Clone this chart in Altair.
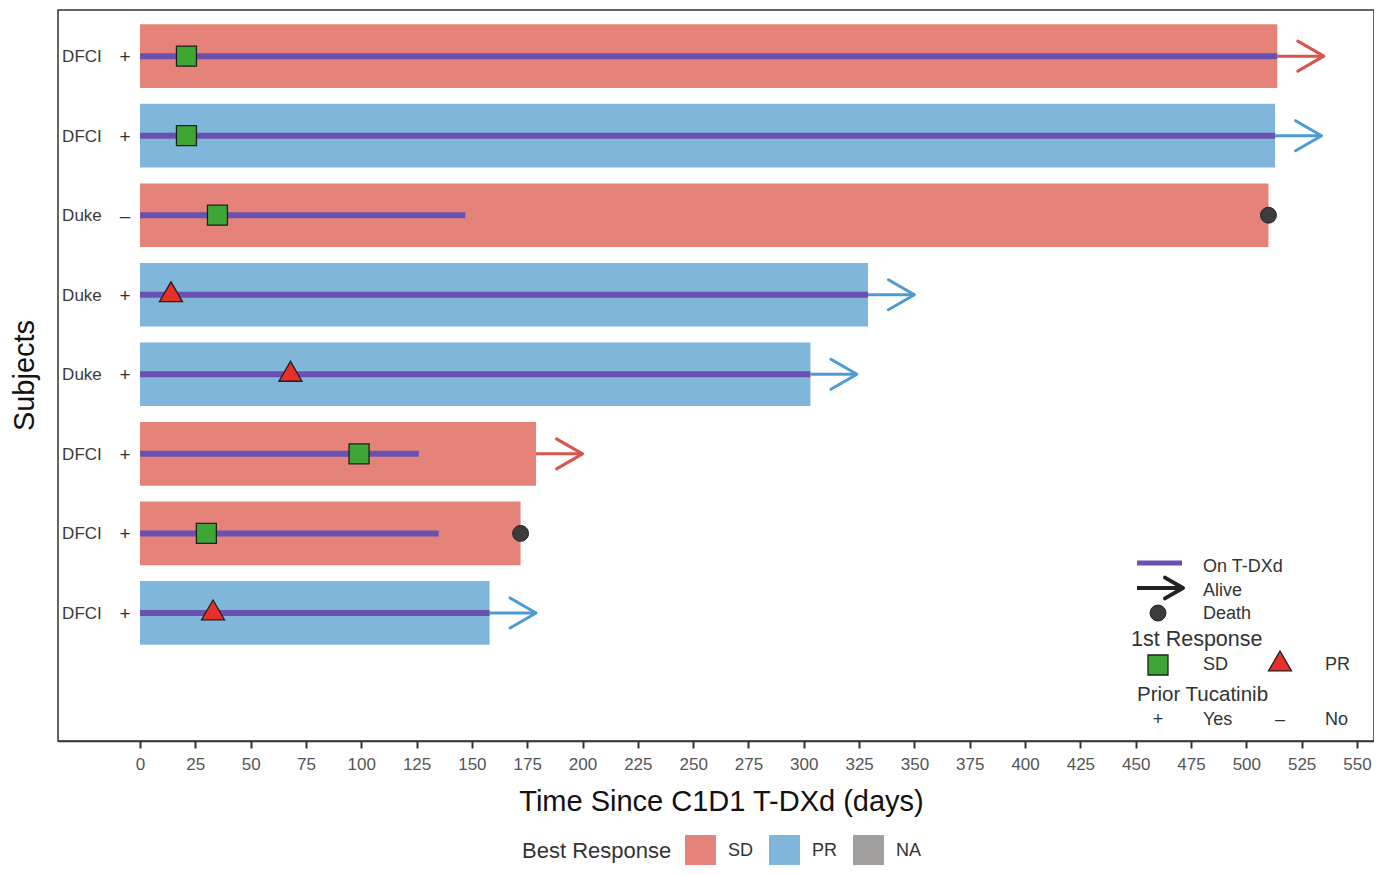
import altair as alt
import pandas as pd

# ---------------- data (top row first) ----------------
sites = ["DFCI", "DFCI", "Duke", "Duke", "Duke", "DFCI", "DFCI", "DFCI"]
prior_tucatinib = ["+", "+", "–", "+", "+", "+", "+", "+"]
best_response = ["SD", "PR", "SD", "PR", "PR", "SD", "SD", "PR"]
total_days = [514, 513, 510, 329, 303, 179, 172, 158]
on_tdxd_days = [514, 513, 147, 329, 303, 126, 135, 158]
first_resp_days = [21, 21, 35, 14, 68, 99, 30, 33]
first_resp = ["SD", "SD", "SD", "PR", "PR", "SD", "SD", "PR"]
status = ["Alive", "Alive", "Death", "Alive", "Alive", "Alive", "Death", "Alive"]
x_ticks = list(range(0, 551, 25))
resp_levels = ["SD", "PR", "NA"]

n = len(sites)
df = pd.DataFrame({
    "site": sites,
    "prior": prior_tucatinib,
    "best": best_response,
    "total": total_days,
    "ontx": on_tdxd_days,
    "resp_day": first_resp_days,
    "resp": first_resp,
    "status": status,
    "row": list(range(n, 0, -1)),
})

FONT = "Liberation Sans, Arial, sans-serif"
NARROW = "Liberation Sans Narrow, Arial Narrow, Liberation Sans, sans-serif"
SD_COL, PR_COL, NA_COL = "#E5837A", "#80B6DA", "#A19E9E"
PURPLE = "#6A51B0"
ARROW_PATH = "M -1 -0.577 L 0 0 L -1 0.577"
ARROW_LEN = 21

xscale = alt.Scale(domain=[-37.06, 557.7], nice=False, zero=False)
yscale = alt.Scale(domain=[-0.61, 8.58], nice=False, zero=False)

XAXIS = alt.Axis(
    values=x_ticks, title="Time Since C1D1 T-DXd (days)", grid=False,
    labelFontSize=17, labelColor="#555555", labelFont=NARROW,
    labelOverlap=False, labelFlush=False,
    tickColor="#333", tickSize=7, tickWidth=2,
    domainColor="#333", domainWidth=1.5, labelPadding=8,
    titleFont=FONT, titleFontSize=29, titleFontWeight="normal",
    titleColor="#111", titleX=663, titleY=69, titleBaseline="alphabetic")
YAXIS = alt.Axis(
    title="Subjects", labels=False, ticks=False, domain=False, grid=False,
    titleFont=FONT, titleFontSize=29, titleFontWeight="normal",
    titleColor="#111", titleX=-25, titleY=365, titleBaseline="alphabetic",
    titleAngle=270)


def X(field):
    return alt.X(field, scale=xscale, axis=XAXIS, title="Time Since C1D1 T-DXd (days)")


def Y(field):
    return alt.Y(field, scale=yscale, axis=YAXIS, title="Subjects")


base = alt.Chart(df)

bars = base.transform_calculate(
    x0="0", ylo="datum.row - 0.4", yhi="datum.row + 0.4"
).mark_rect().encode(
    x=X("x0:Q"),
    x2="total:Q",
    y=Y("ylo:Q"),
    y2="yhi:Q",
    color=alt.Color("best:N", scale=alt.Scale(domain=resp_levels,
                                              range=[SD_COL, PR_COL, NA_COL]),
                    legend=alt.Legend(
                        orient="none", legendX=464, legendY=825,
                        direction="horizontal", titleOrient="left",
                        title="Best Response", titleFont=FONT, titleFontSize=22,
                        titleFontWeight="normal", titleColor="#333",
                        titlePadding=13, titleBaseline="middle",
                        labelFont=FONT, labelFontSize=18, labelColor="#333",
                        symbolType="square", symbolSize=961,
                        symbolStrokeWidth=0, symbolOpacity=1,
                        labelOffset=12, columnPadding=15)),
)

ontx_line = base.transform_calculate(x0="0").mark_rule(
    color=PURPLE, strokeWidth=6
).encode(
    x=X("x0:Q"),
    x2="ontx:Q",
    y=Y("row:Q"),
)

alive = base.transform_filter("datum.status == 'Alive'").transform_calculate(
    tip=f"datum.total + {ARROW_LEN}",
    acol="datum.best == 'SD' ? '#D9554B' : '#4C9CD3'",
)
arrow_shaft = alive.mark_rule(strokeWidth=3).encode(
    x=X("total:Q"),
    x2="tip:Q",
    y=Y("row:Q"),
    color=alt.Color("acol:N", scale=None),
)
arrow_head = alive.mark_point(
    shape=ARROW_PATH, size=2704, filled=False, strokeWidth=3,
    strokeCap="round", strokeJoin="round", opacity=1
).encode(
    x=X("tip:Q"),
    y=Y("row:Q"),
    color=alt.Color("acol:N", scale=None),
)

death = base.transform_filter("datum.status == 'Death'").mark_point(
    shape="circle", size=254, filled=True, fill="#3C3C3C", stroke="#222",
    strokeWidth=1, opacity=1
).encode(
    x=X("total:Q"),
    y=Y("row:Q"),
)

resp_sd = base.transform_filter("datum.resp == 'SD'").mark_point(
    shape="square", size=400, filled=True, fill="#3FA535", stroke="#1f1f1f",
    strokeWidth=1.3, opacity=1
).encode(
    x=X("resp_day:Q"),
    y=Y("row:Q"),
)
resp_pr = base.transform_filter("datum.resp == 'PR'").mark_point(
    shape="triangle-up", size=529, filled=True, fill="#E8302A", stroke="#1f1f1f",
    strokeWidth=1.3, opacity=1, yOffset=-3
).encode(
    x=X("resp_day:Q"),
    y=Y("row:Q"),
)

site_txt = base.transform_calculate(lx="-35.2").mark_text(
    align="left", baseline="middle", font=NARROW, fontSize=17,
    color="#3a3a3a", dy=1
).encode(
    x=X("lx:Q"),
    y=Y("row:Q"),
    text="site:N",
)
prior_txt = base.transform_calculate(lx="-6.8").mark_text(
    align="center", baseline="middle", font=FONT, fontSize=19,
    color="#333", dy=1
).encode(
    x=X("lx:Q"),
    y=Y("row:Q"),
    text="prior:N",
)

# ---------------- inner legend ----------------
one = alt.Chart(pd.DataFrame({"a": [0]}))


def ltext(txt, x, y, size=18, align="left"):
    return one.mark_text(text=txt, align=align, baseline="middle", font=FONT,
                         fontSize=size, color="#333").encode(
        x=alt.value(x), y=alt.value(y))


leg = [
    one.mark_rule(color=PURPLE, strokeWidth=5).encode(
        x=alt.value(1079), x2=alt.value(1124), y=alt.value(553)),
    one.mark_rule(color="#222", strokeWidth=4).encode(
        x=alt.value(1079), x2=alt.value(1123), y=alt.value(578)),
    one.mark_point(shape=ARROW_PATH, size=1296, filled=False, color="#222",
                   strokeWidth=4, strokeCap="round", strokeJoin="round",
                   opacity=1).encode(x=alt.value(1125), y=alt.value(578)),
    one.mark_point(shape="circle", size=254, filled=True, fill="#3C3C3C",
                   stroke="#222", strokeWidth=1, opacity=1).encode(
        x=alt.value(1100), y=alt.value(603)),
    ltext("On T-DXd", 1145, 557),
    ltext("Alive", 1145, 581),
    ltext("Death", 1145, 604),
    ltext("1st Response", 1073, 630, size=21.5),
    one.mark_point(shape="square", size=400, filled=True, fill="#3FA535",
                   stroke="#1f1f1f", strokeWidth=1.3, opacity=1).encode(
        x=alt.value(1100), y=alt.value(655)),
    ltext("SD", 1145, 655),
    one.mark_point(shape="triangle-up", size=529, filled=True, fill="#E8302A",
                   stroke="#1f1f1f", strokeWidth=1.3, opacity=1).encode(
        x=alt.value(1222), y=alt.value(651)),
    ltext("PR", 1267, 655),
    ltext("Prior Tucatinib", 1079, 685, size=20.5),
    ltext("+", 1100, 710, align="center"),
    ltext("Yes", 1145, 710),
    ltext("–", 1222, 710, align="center"),
    ltext("No", 1267, 710),
]

chart = alt.layer(
    bars, ontx_line, arrow_shaft, arrow_head, death, resp_sd, resp_pr,
    site_txt, prior_txt, *leg
).properties(
    width=1316, height=731,
    autosize=alt.AutoSizeParams(type="none"),
    padding={"left": 50, "top": 2, "right": 0, "bottom": 124},
    background="white",
).configure_view(
    stroke="#333", strokeWidth=1.5
)

chart.save("out.html", embed_options={"renderer": "svg", "actions": False})
